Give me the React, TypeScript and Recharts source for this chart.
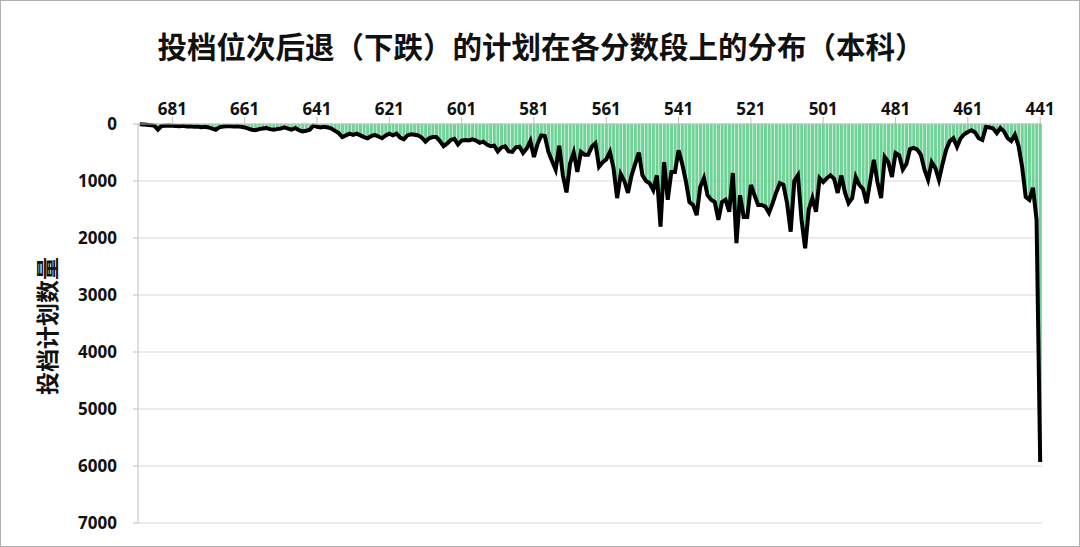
import React from "react";
import {
  Bar,
  CartesianGrid,
  ComposedChart,
  Line,
  XAxis,
  YAxis
} from "recharts";

// scores 690 -> 441, one category per score
const scores: number[] = Array.from({ length: 250 }, (_, i) => 690 - i);

// number of plans whose rank dropped, per score
const planCounts: number[] = [
  5, 10, 15, 20, 30, 100, 35, 30, 25, 30,
  35, 40, 30, 45, 40, 50, 45, 55, 50, 60,
  80, 100, 60, 45, 40, 40, 45, 40, 50, 60,
  80, 100, 110, 90, 80, 70, 90, 100, 90, 80,
  60, 80, 100, 70, 110, 130, 120, 100, 30, 50,
  60, 50, 60, 80, 120, 160, 230, 200, 170, 190,
  170, 200, 230, 250, 210, 190, 220, 250, 200, 170,
  200, 170, 240, 270, 200, 180, 190, 200, 240, 310,
  250, 230, 230, 300, 390, 340, 280, 260, 360, 290,
  280, 290, 270, 290, 330, 310, 360, 390, 380, 480,
  410, 390, 480, 490, 410, 400, 510, 430, 300, 580,
  350, 200, 210, 490, 650, 800, 380, 900, 1200, 690,
  500, 840, 490, 540, 540, 400, 340, 750, 670, 620,
  490, 770, 1300, 880, 1000, 1210, 900, 700, 500, 900,
  1000, 1040, 1160, 900, 1800, 670, 1330, 840, 840, 460,
  700, 1000, 1370, 1420, 1600, 1100, 950, 1250, 1330, 1370,
  1680, 1370, 1330, 1540, 860, 2090, 1250, 1630, 1630, 1070,
  1250, 1420, 1420, 1450, 1560, 1390, 1200, 1040, 1070, 1390,
  1890, 1000, 900, 1680, 2180, 1500, 1300, 1540, 950, 1020,
  950, 900, 960, 1210, 900, 1200, 1390, 1300, 930, 1070,
  1140, 1390, 1000, 630, 1020, 1300, 580, 670, 930, 510,
  550, 800, 700, 440, 420, 450, 540, 800, 980, 670,
  770, 980, 700, 450, 300, 250, 400, 250, 180, 140,
  110, 150, 250, 280, 50, 60, 80, 160, 70, 130,
  250, 300, 190, 380, 750, 1280, 1330, 1120, 1680, 5930
];

const xTicks = [681, 661, 641, 621, 601, 581, 561, 541, 521, 501, 481, 461, 441];
const yTicks = [0, 1000, 2000, 3000, 4000, 5000, 6000, 7000];

const data = scores.map((score, i) => ({ score, count: planCounts[i] }));

const tickStyle = {
  fontSize: 17,
  fontWeight: 700,
  fill: "#111",
  fontFamily: "'Noto Sans', 'DejaVu Sans', sans-serif"
};

const App = () => {
  return (
    <div
      style={{
        position: "fixed",
        left: 0,
        top: 0,
        width: 1080,
        height: 547,
        background: "#fff",
        border: "1px solid #b0b0b0",
        boxSizing: "border-box",
        fontFamily: "'Noto Sans CJK SC', sans-serif"
      }}
    >
      <div
        style={{
          position: "absolute",
          top: 23,
          left: 0,
          width: 1080,
          textAlign: "center",
          fontSize: 29.5,
          fontWeight: 700,
          color: "#111",
          lineHeight: "42px"
        }}
      >
        投档位次后退（下跌）的计划在各分数段上的分布（本科）
      </div>
      <div
        style={{
          position: "absolute",
          left: 45,
          top: 325,
          transform: "translate(-50%, -50%) rotate(-90deg)",
          fontSize: 23,
          fontWeight: 700,
          color: "#111",
          whiteSpace: "nowrap"
        }}
      >
        投档计划数量
      </div>
      <ComposedChart
        width={1078}
        height={545}
        data={data}
        margin={{ top: 93, right: 37, left: 77, bottom: 23 }}
        barCategoryGap="12%"
        style={{ position: "absolute", left: 0, top: 0 }}
      >
        <CartesianGrid vertical={false} stroke="#d9d9d9" />
        <XAxis
          dataKey="score"
          orientation="top"
          ticks={xTicks}
          interval={0}
          height={30}
          tick={tickStyle}
          tickLine={{ stroke: "#bfbfbf" }}
          tickSize={7}
          axisLine={{ stroke: "#bfbfbf" }}
        />
        <YAxis
          reversed
          domain={[0, 7000]}
          ticks={yTicks}
          width={60}
          tick={tickStyle}
          tickLine={{ stroke: "#bfbfbf" }}
          tickSize={5}
          tickMargin={16}
          axisLine={{ stroke: "#bfbfbf" }}
        />
        <Bar dataKey="count" fill="#6fd398" isAnimationActive={false} />
        <Line
          type="linear"
          dataKey="count"
          stroke="#000"
          strokeWidth={4}
          dot={false}
          isAnimationActive={false}
        />
      </ComposedChart>
    </div>
  );
};

export default App;
